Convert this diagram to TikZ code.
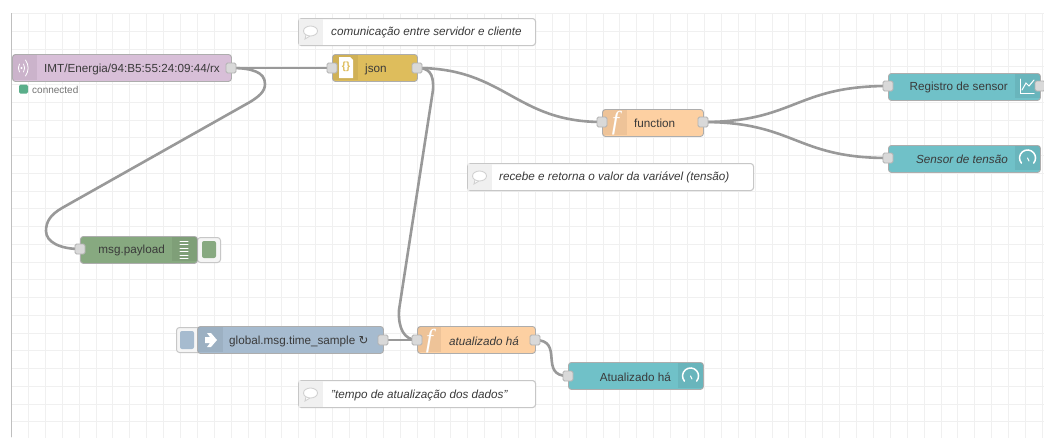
\documentclass[tikz,border=0pt]{standalone}
\usepackage{fontspec}
\setmainfont{Liberation Sans}
\newfontfamily\symfont{DejaVu Sans}
\newfontfamily\serifit{Liberation Serif}
\pgfdeclarelayer{gridlayer}
\pgfdeclarelayer{wirelayer}
\pgfsetlayers{gridlayer,wirelayer,main}
\definecolor{mqttcol}{HTML}{D8BFD8}
\definecolor{jsoncol}{HTML}{DEBD5C}
\definecolor{funccol}{HTML}{FDD0A2}
\definecolor{dashcol}{HTML}{70C1C8}
\definecolor{debugcol}{HTML}{87A980}
\definecolor{injectcol}{HTML}{A6BBCF}
\definecolor{textcol}{HTML}{3A3A3A}
\definecolor{statuscol}{HTML}{5AAE8A}
\tikzset{
  flowbox/.style={draw=black!32,line width=0.9pt,rounded corners=3pt,inner sep=0pt,
    minimum height=27pt,anchor=north west},
  notebox/.style={draw=black!22,fill=white,line width=1.1pt,rounded corners=3pt,inner sep=0pt,
    minimum height=27pt,anchor=north west},
  portbox/.style={draw=black!30,fill=black!15,line width=0.8pt,rounded corners=1.5pt,inner sep=0pt,
    minimum size=10pt},
  buttonbox/.style={draw=black!22,fill=black!4,line width=1pt,rounded corners=3pt,inner sep=0pt,
    minimum height=25pt,anchor=north west},
  flowlabel/.style={text=textcol,font=\fontsize{11.7}{13}\selectfont,inner sep=0pt},
  notelabel/.style={flowlabel,font=\fontsize{11.7}{13}\selectfont\itshape,anchor=west},
  wire/.style={draw=black!40,line width=2.6pt},
  iconshade/.style={fill=black,opacity=0.06},
  noteshade/.style={fill=black!6},
  iconline/.style={draw=white,line width=1pt,line cap=round},
  bubble/.style={draw=black!18,fill=white,line width=0.9pt},
  funcglyph/.style={text=white,font=\fontsize{26}{26}\selectfont\serifit\itshape,inner sep=0pt},
}
\begin{document}
\begin{tikzpicture}[x=1pt,y=-1pt]
   \useasboundingbox (0,0) rectangle (1044,437);
   % canvas
   \begin{pgfonlayer}{gridlayer}
   \fill[white] (0,0) rectangle (1044,437);
   \begin{scope}
   \clip (11,13) rectangle (1044,437);
   \begin{scope}[xshift=11.4pt,yshift=-13.4pt]
   \draw[black!6,line width=0.8pt,xstep=16.9pt,ystep=17.75pt] (0,0) grid (1040,430);
   \end{scope}
   \end{scope}
   \draw[black!25,line width=1pt] (11,13) -- (11,437);
   \end{pgfonlayer}

   % comments
   \node[notebox,minimum width=237pt] (noteServer) at (298,18) {};
   \node[notebox,minimum width=286pt] (noteValue) at (467,163) {};
   \node[notebox,minimum width=237pt] (noteTime) at (298,380) {};
   \fill[noteshade] ([xshift=1pt,yshift=1pt]noteServer.south west) rectangle (323,19);
   \fill[noteshade] ([xshift=1pt,yshift=1pt]noteValue.south west) rectangle (492,164);
   \fill[noteshade] ([xshift=1pt,yshift=1pt]noteTime.south west) rectangle (323,381);
   \draw[bubble] (306,35) -- (305,39) -- (310,36);
   \draw[bubble] (475,180) -- (474,184) -- (479,181);
   \draw[bubble] (306,397) -- (305,401) -- (310,398);
   \draw[bubble] (310.5,31) ellipse (7pt and 5pt);
   \draw[bubble] (479.5,176) ellipse (7pt and 5pt);
   \draw[bubble] (310.5,393) ellipse (7pt and 5pt);
   \node[notelabel] (noteServerLbl) at (331,32.5) {comunicação entre servidor e cliente};
   \node[notelabel] (noteValueLbl) at (499,177.5) {recebe e retorna o valor da variável (tensão)};
   \node[notelabel] (noteTimeLbl) at (331,395) {"tempo de atualização dos dados"};

   % flow nodes
   \node[flowbox,fill=mqttcol,minimum width=219pt] (mqtt) at (12,54) {};
   \node[flowbox,fill=jsoncol,minimum width=85pt] (json) at (332,54) {};
   \node[flowbox,fill=funccol,minimum width=101pt] (func) at (602,109) {};
   \node[flowbox,fill=dashcol,minimum width=152pt] (chart) at (888,73) {};
   \node[flowbox,fill=dashcol,minimum width=152pt] (gauge) at (888,145) {};
   \node[buttonbox,minimum width=23pt] (debugBtn) at (197,237) {};
   \node[flowbox,fill=debugcol,minimum width=117pt] (debug) at (80,236) {};
   \node[buttonbox,minimum width=26pt] (injectBtn) at (176,327) {};
   \node[flowbox,fill=injectcol,minimum width=186pt] (inject) at (197,326) {};
   \node[flowbox,fill=funccol,minimum width=118pt] (age) at (417,326) {};
   \node[flowbox,fill=dashcol,minimum width=135pt] (ageGauge) at (568,362) {};
   \fill[debugcol,rounded corners=2pt] (202,241) rectangle (216,258);
   \fill[injectcol,rounded corners=2pt] (180,331) rectangle (194,349);

   % icon strips
   \fill[iconshade] ([xshift=1pt,yshift=-1pt]mqtt.north west) rectangle (37,80);
   \fill[iconshade] ([xshift=1pt,yshift=-1pt]json.north west) rectangle (358,80);
   \fill[iconshade] ([xshift=1pt,yshift=-1pt]func.north west) rectangle (627,135);
   \fill[iconshade] ([xshift=-1pt,yshift=-1pt]chart.north east) rectangle (1015,98);
   \fill[iconshade] ([xshift=-1pt,yshift=-1pt]gauge.north east) rectangle (1015,170);
   \fill[iconshade] ([xshift=-1pt,yshift=-1pt]debug.north east) rectangle (172,261);
   \fill[iconshade] ([xshift=1pt,yshift=-1pt]inject.north west) rectangle (223,352);
   \fill[iconshade] ([xshift=1pt,yshift=-1pt]age.north west) rectangle (441,352);
   \fill[iconshade] ([xshift=-1pt,yshift=-1pt]ageGauge.north east) rectangle (678,388);

   % icons
   \fill[white] (21.5,68) circle (1.2pt);
   \draw[iconline,line width=0.8pt] (23.5,64) .. controls (25,66.5) and (25,69.5) .. (23.5,72);
   \draw[iconline,line width=0.8pt] (19.5,64) .. controls (18,66.5) and (18,69.5) .. (19.5,72);
   \draw[iconline,line width=0.8pt] (25.5,60) .. controls (29,65) and (29,71) .. (25.5,76);
   \fill[white] (339,57) -- (350,57) -- (353,60) -- (353,78) -- (339,78) -- cycle;
   \node[text=jsoncol,font=\fontsize{10.5}{11}\selectfont\bfseries,inner sep=0pt] (jsonIcon) at (346,67) {\{\}};
   \node[funcglyph] (funcIcon) at (615.5,123) {f};
   \node[funcglyph] (ageIcon) at (429.5,341) {f};
   \draw[iconline] (1020,79) -- (1020,93) -- (1034,93);
   \draw[iconline] (1022,90) -- (1026,83) -- (1029,86) -- (1034,80);
   \draw[iconline,line width=1.5pt] (1021.4,163.1) arc (220:-40:8pt);
   \draw[iconline] (1027.5,158) -- (1029,161);
   \draw[iconline,line width=1.5pt] (684.4,381.1) arc (220:-40:8pt);
   \draw[iconline] (690.5,376) -- (692,379);
   \draw[iconline] (180,241) -- (188,241);
   \draw[iconline] (180,244.5) -- (188,244.5);
   \draw[iconline] (180,248) -- (188,248);
   \draw[iconline] (180,251.5) -- (188,251.5);
   \draw[iconline] (180,255) -- (188,255);
   \draw[iconline] (180,258) -- (188,258);
   \fill[white] (205,337) -- (210,337) -- (207,333) -- (211,333) -- (217,340) -- (211,347) -- (207,347) -- (210,343) -- (205,343) -- cycle;

   % labels
   \node[flowlabel,anchor=west] (mqttLbl) at (44,69) {IMT/Energia/94:B5:55:24:09:44/rx};
   \node[flowlabel,anchor=west] (jsonLbl) at (365,69) {json};
   \node[flowlabel,anchor=west] (funcLbl) at (634,123) {function};
   \node[flowlabel,anchor=east] (chartLbl) at (1008,87) {Registro de sensor};
   \node[flowlabel,anchor=east,font=\fontsize{11.7}{13}\selectfont\itshape] (gaugeLbl) at (1008,159) {Sensor de tensão};
   \node[flowlabel,anchor=east] (debugLbl) at (165,250) {msg.payload};
   \node[flowlabel,anchor=west] (injectLbl) at (229,341) {global.msg.time\_sample {\symfont ↻}};
   \node[flowlabel,anchor=west,font=\fontsize{11.7}{13}\selectfont\itshape] (ageLbl) at (449,341) {atualizado há};
   \node[flowlabel,anchor=east] (ageGaugeLbl) at (671,377) {Atualizado há};
   \node[fill=statuscol,rounded corners=1.5pt,inner sep=0pt,minimum size=9pt] (mqttDot) at (23.5,89) {};
   \node[text=black!55,font=\fontsize{10}{11}\selectfont,anchor=west,inner sep=0pt] (mqttStatus) at (32,89.5) {connected};

   % ports
   \node[portbox] (mqttOut) at (231,68) {};
   \node[portbox] (jsonIn) at (332,68) {};
   \node[portbox] (jsonOut) at (417,68) {};
   \node[portbox] (funcIn) at (602,122) {};
   \node[portbox] (funcOut) at (703,122) {};
   \node[portbox] (chartIn) at (888,86) {};
   \node[portbox] (chartOut) at (1040,86) {};
   \node[portbox] (gaugeIn) at (888,158) {};
   \node[portbox] (debugIn) at (80,249) {};
   \node[portbox] (injectOut) at (383,340) {};
   \node[portbox] (ageIn) at (417,340) {};
   \node[portbox] (ageOut) at (535,340) {};
   \node[portbox] (ageGaugeIn) at (568,376) {};

   % wires
   \begin{pgfonlayer}{wirelayer}
   \draw[wire] (mqttOut.center) -- (jsonIn.center);
   \draw[wire] (mqttOut.center) .. controls (252,68) and (265,72) .. (265,84) .. controls (265,92) and (258,97) .. (250,102) -- (62,208) .. controls (50,215) and (46,222) .. (46,231) .. controls (46,242) and (60,249) .. (debugIn.center);
   \draw[wire] (jsonOut.center) .. controls (505,68) and (515,122) .. (funcIn.center);
   \draw[wire] (jsonOut.center) .. controls (428,68) and (434,72) .. (433,90) -- (399,310) .. controls (398,328) and (404,340) .. (ageIn.center);
   \draw[wire] (funcOut.center) .. controls (795,122) and (795,86) .. (chartIn.center);
   \draw[wire] (funcOut.center) .. controls (795,122) and (795,158) .. (gaugeIn.center);
   \draw[wire] (injectOut.center) -- (ageIn.center);
   \draw[wire] (ageOut.center) .. controls (565,340) and (538,376) .. (ageGaugeIn.center);
   \end{pgfonlayer}
\end{tikzpicture}
\end{document}
